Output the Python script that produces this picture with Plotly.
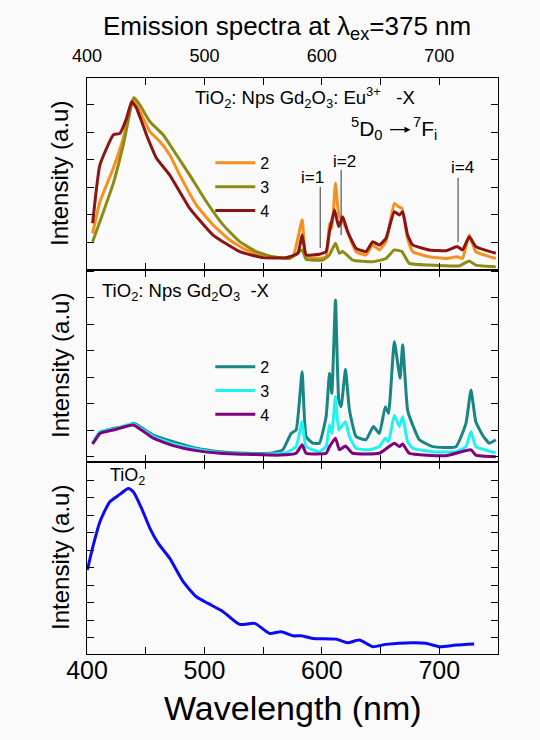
import plotly.graph_objects as go

# ---------------- data ----------------
# Top panel: TiO2: Nps Gd2O3: Eu3+ -X
top2_x = [404.8, 411, 422.4, 430.9, 438.9, 443.7, 453.6, 462.1, 470.5, 479, 493.2, 507.3, 521.5, 535.6, 549.8, 564, 575.3, 583.2, 586.6, 597.9, 603.6, 606.5, 608.5, 611.6, 614.4, 617.8, 620.6, 629.1, 637.6, 643.3, 649, 654.6, 661.7, 665.4, 668.2, 673, 677.3, 691.5, 705.6, 715.5, 719.8, 725.5, 731.1, 748.1]
top2_y = [1.33, 2.48, 3.70, 4.79, 6.22, 5.88, 5.03, 4.67, 4.18, 3.45, 2.36, 1.64, 1.09, 0.73, 0.55, 0.45, 0.48, 1.82, 0.48, 0.42, 0.48, 1.70, 1.52, 3.15, 2.0, 1.76, 1.52, 0.67, 0.55, 0.91, 0.73, 1.03, 2.42, 2.3, 2.24, 1.15, 0.67, 0.48, 0.42, 0.48, 0.42, 1.27, 0.67, 0.42]

top3_x = [404.8, 411, 422.4, 430.9, 440, 445, 453.6, 465, 476.3, 487.5, 501.7, 515.9, 530, 544.2, 558.3, 572.5, 583.2, 586.6, 600.8, 606.5, 611.6, 614.9, 617.8, 626.3, 643.3, 654.6, 661.7, 668.2, 674.4, 691.5, 717, 725.5, 731.1, 748.1]
top3_y = [1.03, 1.76, 3.15, 4.55, 6.27, 6.0, 5.39, 4.91, 4.18, 3.45, 2.48, 1.64, 1.03, 0.67, 0.48, 0.42, 0.73, 0.39, 0.36, 0.55, 0.97, 0.61, 0.67, 0.36, 0.30, 0.42, 0.73, 0.67, 0.24, 0.18, 0.15, 0.33, 0.18, 0.12]

top4_x = [404.8, 411, 422.4, 428, 433.7, 438, 442.2, 450.7, 459.2, 470.5, 487.5, 507.3, 530, 549.8, 569.6, 579.5, 583.2, 586.6, 597.9, 603.6, 606.5, 610.7, 614.4, 617.8, 622, 629.1, 637.6, 643.3, 649, 654.6, 661.7, 666, 668.8, 673, 677.3, 691.5, 705.6, 715.5, 719.8, 725.5, 731.1, 748.1]
top4_y = [1.70, 3.82, 4.91, 4.97, 5.52, 6.12, 5.88, 4.91, 4.06, 3.45, 2.24, 1.27, 0.67, 0.45, 0.45, 0.6, 1.27, 0.55, 0.57, 0.67, 1.39, 2.18, 1.58, 1.94, 1.39, 0.79, 0.67, 1.03, 0.91, 1.15, 2.12, 2.0, 2.12, 1.27, 0.91, 0.73, 0.70, 0.85, 0.73, 1.21, 0.85, 0.61]

# Middle panel: TiO2: Nps Gd2O3 -X
mid2_x = [404.8, 411, 422.4, 430.9, 439.4, 445, 456.4, 473.3, 493.2, 513, 535.6, 555.4, 566.7, 573.8, 578.1, 583.2, 586.6, 592.3, 597.9, 603.6, 606.5, 608.5, 611.6, 614.4, 616.4, 620.1, 623.5, 629.1, 637.6, 643.9, 649, 654, 656.8, 661.7, 666.6, 668.8, 673, 677.3, 683, 694.4, 714.2, 722.7, 727, 731.1, 736.8, 742.5, 748.1]
mid2_y = [0.505, 0.91, 1.07, 1.11, 1.26, 1.14, 0.82, 0.57, 0.32, 0.19, 0.13, 0.13, 0.26, 0.88, 1.01, 3.21, 0.76, 0.51, 0.51, 1.51, 3.15, 2.39, 5.92, 2.14, 1.89, 3.30, 1.76, 0.76, 0.64, 1.14, 0.88, 1.89, 1.64, 4.35, 2.96, 4.23, 1.76, 1.20, 0.64, 0.38, 0.38, 1.26, 2.52, 1.32, 0.82, 0.51, 0.64]

mid3_x = [404.8, 411, 422.4, 439.4, 456.4, 473.3, 493.2, 513, 535.6, 555.4, 569.6, 578.1, 583.2, 586.6, 597.9, 603.6, 606.5, 608.5, 611.6, 614.4, 620.1, 623.5, 629.1, 640.4, 649, 654, 656.8, 661.7, 666, 668.8, 673, 677.3, 694.4, 714.2, 722.7, 727, 731.1, 748.1]
mid3_y = [0.505, 0.95, 1.04, 1.24, 0.76, 0.48, 0.28, 0.15, 0.10, 0.10, 0.15, 0.38, 1.32, 0.38, 0.19, 0.38, 1.20, 0.88, 2.27, 1.01, 1.32, 0.76, 0.32, 0.26, 0.38, 0.70, 0.57, 1.57, 1.14, 1.51, 0.57, 0.32, 0.19, 0.19, 0.38, 0.95, 0.38, 0.15]

mid4_x = [404.8, 411, 422.4, 439.4, 456.4, 473.3, 493.2, 513, 535.6, 564, 578.1, 583.2, 586.6, 603.6, 606.5, 611.6, 614.9, 620.1, 626.3, 649, 661.7, 666, 668.8, 674.4, 705.6, 727, 731.1, 748.1]
mid4_y = [0.48, 0.88, 1.01, 1.20, 0.70, 0.42, 0.23, 0.13, 0.09, 0.06, 0.13, 0.45, 0.13, 0.13, 0.38, 0.70, 0.26, 0.40, 0.13, 0.13, 0.51, 0.38, 0.48, 0.13, 0.04, 0.26, 0.06, 0.0]

# Bottom panel: TiO2
tio2_x = [400.3, 405.4, 411, 419.5, 428, 435.1, 439.4, 446.5, 453.6, 460.7, 470.5, 481.9, 493.2, 503.1, 515.9, 530, 542.8, 555.4, 565.4, 575.3, 582.4, 592.3, 612.1, 622, 631.9, 643.3, 654.6, 677.3, 688.6, 699.9, 714.2, 729.7]
tio2_y = [4.87, 6.30, 7.63, 8.77, 9.19, 9.53, 9.34, 8.39, 7.25, 6.39, 5.53, 4.20, 3.34, 2.96, 2.49, 1.76, 1.82, 1.25, 1.34, 1.11, 1.11, 0.96, 0.92, 0.71, 0.87, 0.49, 0.62, 0.71, 0.68, 0.49, 0.58, 0.64]

series_names = ["2", "3", "4"]
x_tickvals = [400, 450, 500, 550, 600, 650, 700]
x_ticktext = ["400", "", "500", "", "600", "", "700"]

# ---------------- figure ----------------
FONT = "Arial, Liberation Sans, sans-serif"
fig = go.Figure()

top_cols = ["#F7901E", "#8C8C14", "#8B1414"]
mid_cols = ["#1A8585", "#1EF2F2", "#800080"]

for nm, xs, ys, c in zip(series_names, [top2_x, top3_x, top4_x], [top2_y, top3_y, top4_y], top_cols):
    fig.add_trace(go.Scatter(x=xs, y=ys, mode="lines", name=nm, xaxis="x3", yaxis="y3",
                             line=dict(color=c, width=3, shape="spline", smoothing=0.4),
                             legend="legend"))
for nm, xs, ys, c in zip(series_names, [mid2_x, mid3_x, mid4_x], [mid2_y, mid3_y, mid4_y], mid_cols):
    fig.add_trace(go.Scatter(x=xs, y=ys, mode="lines", name=nm, xaxis="x2", yaxis="y2",
                             line=dict(color=c, width=3, shape="spline", smoothing=0.4),
                             legend="legend2"))
fig.add_trace(go.Scatter(x=tio2_x, y=tio2_y, mode="lines", name="TiO2", xaxis="x", yaxis="y",
                         line=dict(color="#0A0AF5", width=3, shape="spline", smoothing=0.6),
                         showlegend=False))

common_x = dict(range=[400, 750], tickmode="array", tickvals=x_tickvals, ticktext=x_ticktext,
                ticks="inside", ticklen=7, tickwidth=1.2, tickcolor="black",
                showline=True, linecolor="black", linewidth=1.3,
                showgrid=False, zeroline=False)
common_y = dict(ticks="inside", ticklen=7, tickwidth=1.2, tickcolor="black", dtick=1, tick0=0,
                showline=True, linecolor="black", linewidth=1.3, mirror="allticks",
                showgrid=False, zeroline=False, showticklabels=False)

fig.update_layout(
    width=540, height=740,
    margin=dict(l=87, r=42, t=78, b=86),
    paper_bgcolor="#FAFAFA", plot_bgcolor="#FAFAFA",
    font=dict(family=FONT, color="black"),
    xaxis=dict(**common_x, anchor="y", mirror="ticks", showticklabels=True,
               tickfont=dict(size=25), ticklabelstandoff=-6),
    xaxis2=dict(**common_x, anchor="y2", mirror="allticks", showticklabels=False),
    xaxis3=dict(**common_x, anchor="y3", mirror="ticks", side="top", showticklabels=True,
                tickfont=dict(size=18), ticklabelstandoff=8),
    yaxis=dict(**common_y, domain=[0, 1/3], range=[0.07, 11.04]),
    yaxis2=dict(**common_y, domain=[1/3, 2/3], range=[-0.2, 7.05]),
    yaxis3=dict(**common_y, domain=[2/3, 1], range=[0, 6.98]),
    legend=dict(x=0.30, y=0.882, xanchor="left", yanchor="top", bgcolor="rgba(0,0,0,0)",
                font=dict(size=16), tracegroupgap=0, itemwidth=40),
    legend2=dict(x=0.30, y=0.528, xanchor="left", yanchor="top", bgcolor="rgba(0,0,0,0)",
                 font=dict(size=16), tracegroupgap=0, itemwidth=40),
)

ann = []
# title
ann.append(dict(text="Emission spectra at λ<sub>ex</sub>=375 nm", xref="paper", yref="paper",
                x=0.487, y=1 + (78 - 28) / 576, xanchor="center", yanchor="middle",
                showarrow=False, font=dict(size=26)))
# x title
ann.append(dict(text="Wavelength (nm)", xref="paper", yref="paper", x=0.5, y=-(708 - 654) / 576,
                xanchor="center", yanchor="middle", showarrow=False, font=dict(size=34)))
# y titles
for yc in [174, 366, 558]:
    ann.append(dict(text="Intensity (a.u)", xref="paper", yref="paper", x=-(87 - 60) / 411,
                    y=1 - (yc - 78) / 576, xanchor="center", yanchor="middle", textangle=-90,
                    showarrow=False, font=dict(size=24)))
# panel labels
ann.append(dict(text="TiO<sub>2</sub>: Nps Gd<sub>2</sub>O<sub>3</sub>: Eu<sup>3+</sup>   -X",
                xref="paper", yref="paper", x=(193 - 87) / 411, y=1 - (97 - 78) / 576,
                xanchor="left", yanchor="middle", showarrow=False, font=dict(size=18.5)))
ann.append(dict(text="TiO<sub>2</sub>: Nps Gd<sub>2</sub>O<sub>3</sub>  -X",
                xref="paper", yref="paper", x=(100 - 87) / 411, y=1 - (292 - 78) / 576,
                xanchor="left", yanchor="middle", showarrow=False, font=dict(size=18.5)))
ann.append(dict(text="TiO<sub>2</sub>", xref="paper", yref="paper", x=(108 - 87) / 411,
                y=1 - (476 - 78) / 576, xanchor="left", yanchor="middle", showarrow=False,
                font=dict(size=18)))
# transition label
ann.append(dict(text="<sup>5</sup>D<sub>0</sub>", xref="x3", yref="y3", x=654.0, y=5.16,
                xanchor="right", yanchor="middle", showarrow=False, font=dict(size=21)))
ann.append(dict(text="<sup>7</sup>F<sub>i</sub>", xref="x3", yref="y3", x=676.0, y=5.16,
                xanchor="left", yanchor="middle", showarrow=False, font=dict(size=21)))
ann.append(dict(text="", xref="x3", yref="y3", x=675.5, y=5.10, ax=-22, ay=0,
                axref="pixel", ayref="pixel", showarrow=True, arrowhead=2, arrowsize=1,
                arrowwidth=1.2, arrowcolor="black"))
# i= labels
for t, xt, yt in [("i=1", 592.0, 3.35), ("i=2", 619.2, 3.93), ("i=4", 719.5, 3.71)]:
    ann.append(dict(text=t, xref="x3", yref="y3", x=xt, y=yt, xanchor="center",
                    yanchor="middle", showarrow=False, font=dict(size=17)))
fig.update_layout(annotations=ann)

shapes = []
for xl, y0, y1 in [(598.6, 0.80, 3.02), (616.4, 1.27, 3.64), (716.0, 1.02, 3.35)]:
    shapes.append(dict(type="line", xref="x3", yref="y3", x0=xl, x1=xl, y0=y0, y1=y1,
                       line=dict(color="#333333", width=1)))
fig.update_layout(shapes=shapes)

fig.write_html("out.html")
